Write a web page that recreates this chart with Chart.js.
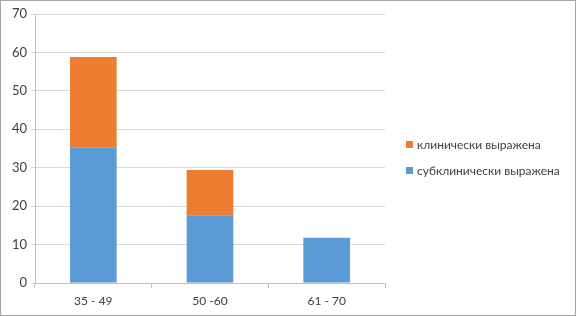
<!DOCTYPE html>
<html>
<head>
<meta charset="utf-8">
<script src="https://cdn.jsdelivr.net/npm/chart.js@4/dist/chart.umd.min.js"></script>
<style>
  html, body { margin: 0; padding: 0; background: #fff; }
  #wrap { width: 576px; height: 316px; box-sizing: border-box; border: 1px solid #a6a6a6; }
  #chart { display: block; }
</style>
</head>
<body>
<div id="wrap"><canvas id="chart" width="574" height="314"></canvas></div>
<script>
// Age groups and shares (%)
const categories = ["35 - 49", "50 -60", "61 - 70"];
const subclinical = [35.3, 17.6, 11.8];
const clinical = [23.5, 11.8, 0];
const seriesNames = ["субклинически выражена", "клинически выражена"];
const yTicks = [0, 10, 20, 30, 40, 50, 60, 70];

const FONT = "Lato, 'Open Sans', sans-serif";
const colors = ["#5b9bd5", "#ed7d31"];

// legend drawn at the right, in reverse order like the original
const sideLegend = {
  id: "sideLegend",
  afterDraw(chart) {
    const ctx = chart.ctx;
    const items = chart.data.datasets.slice().reverse();
    ctx.save();
    ctx.font = "12px " + FONT;
    ctx.textBaseline = "middle";
    items.forEach((ds, i) => {
      const y = 144 + i * 26;
      ctx.fillStyle = ds.backgroundColor;
      ctx.fillRect(405, y - 4, 7, 7);
      ctx.fillStyle = "#404040";
      ctx.fillText(ds.label, 416, y);
    });
    ctx.restore();
  }
};

new Chart(document.getElementById("chart").getContext("2d"), {
  type: "bar",
  data: {
    labels: categories,
    datasets: [
      { label: seriesNames[0], data: subclinical, backgroundColor: colors[0] },
      { label: seriesNames[1], data: clinical, backgroundColor: colors[1] }
    ]
  },
  options: {
    responsive: false,
    animation: false,
    layout: { padding: { top: 13, right: 190, left: 0, bottom: 0 } },
    datasets: { bar: { categoryPercentage: 1, barPercentage: 0.4 } },
    plugins: {
      legend: { display: false },
      tooltip: { enabled: false }
    },
    scales: {
      x: {
        stacked: true,
        afterFit(scale) { scale.height = 32; },
        grid: { drawOnChartArea: false, tickLength: 5, color: "#bfbfbf" },
        border: { color: "#bfbfbf" },
        ticks: { color: "#404040", font: { family: FONT, size: 12 }, padding: 6 }
      },
      y: {
        stacked: true,
        min: 0,
        max: 70,
        afterFit(scale) { scale.width = 34; },
        afterBuildTicks(scale) { scale.ticks = yTicks.map(v => ({ value: v })); },
        grid: { color: "#d9d9d9", tickLength: 4 },
        border: { color: "#bfbfbf" },
        ticks: { color: "#404040", font: { family: FONT, size: 13 }, padding: 4 }
      }
    }
  },
  plugins: [sideLegend]
});
</script>
</body>
</html>
